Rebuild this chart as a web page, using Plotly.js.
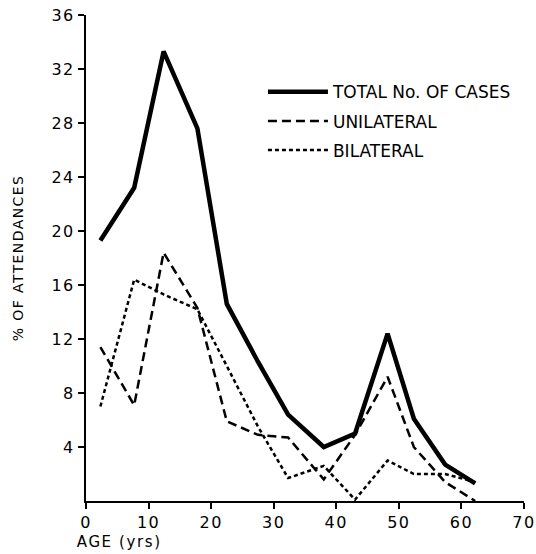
<!DOCTYPE html>
<html>
<head>
<meta charset="utf-8">
<script src="https://cdn.plot.ly/plotly-3.0.1.min.js"></script>
<style>
html,body{margin:0;padding:0;background:#fff;}
#chart{width:536px;height:554px;}
#chart .ytitle{letter-spacing:1.4px;}
#chart .annotation-text{letter-spacing:1.6px;}
#chart .xtick text, #chart .ytick text{letter-spacing:1.5px;}
</style>
</head>
<body>
<div id="chart"></div>
<script>
// Age (years) at which each point is plotted
const ages = [2.3, 7.7, 12.4, 17.8, 22.5, 27.5, 32.3, 38.0, 43.0, 48.2, 52.4, 57.4, 62.2];
// % of attendances
const totalCases = [19.3, 23.2, 33.3, 27.6, 14.6, 10.3, 6.4, 4.0, 5.0, 12.4, 6.1, 2.7, 1.3];
const unilateral = [11.4, 7.1, 18.4, 14.3, 5.9, 4.9, 4.7, 1.6, 4.9, 9.2, 4.0, 1.4, 0.0];
const bilateral  = [7.0, 16.4, 15.3, 14.2, 10.0, 5.5, 1.7, 2.6, 0.1, 3.0, 2.0, 2.0, 1.4];

const seriesNames = ["TOTAL No. OF CASES", "UNILATERAL", "BILATERAL"];
const xTicks = [0, 10, 20, 30, 40, 50, 60, 70];
const yTicks = [4, 8, 12, 16, 20, 24, 28, 32, 36];

const FONT = "'DejaVu Sans', Lato, sans-serif";

const traces = [
  {x: ages, y: totalCases, name: seriesNames[0], legendgroup: "a", mode: "lines",
   line: {color: "#000", width: 4.5}},
  {x: ages, y: unilateral, name: seriesNames[1], legendgroup: "b", mode: "lines",
   line: {color: "#000", width: 2.5, dash: "9px,5px"}},
  {x: ages, y: bilateral, name: seriesNames[2], legendgroup: "c", mode: "lines",
   line: {color: "#000", width: 2.5, dash: "4px,3px"}}
];

const layout = {
  width: 536, height: 554,
  margin: {l: 86, r: 12, t: 15, b: 53},
  paper_bgcolor: "#fff", plot_bgcolor: "#fff",
  font: {family: FONT, color: "#000", size: 15},
  showlegend: true,
  legend: {
    x: 0.404, y: 0.878, xanchor: "left", yanchor: "top",
    bgcolor: "rgba(0,0,0,0)", borderwidth: 0,
    traceorder: "grouped", tracegroupgap: 4, itemwidth: 60,
    font: {family: FONT, size: 17, color: "#000"}
  },
  xaxis: {
    range: [0, 70], tickvals: xTicks, ticktext: xTicks.map(String),
    showgrid: false, zeroline: false,
    showline: true, linecolor: "#000", linewidth: 2,
    ticks: "outside", ticklen: 6, tickwidth: 2, tickcolor: "#000",
    tickfont: {family: FONT, size: 16, color: "#000"},
    fixedrange: true
  },
  yaxis: {
    range: [0, 36], tickvals: yTicks, ticktext: yTicks.map(String),
    showgrid: false, zeroline: false,
    showline: true, linecolor: "#000", linewidth: 2,
    ticks: "outside", ticklen: 6, tickwidth: 2, tickcolor: "#000",
    tickfont: {family: FONT, size: 16, color: "#000"},
    title: {text: "% OF ATTENDANCES", font: {family: FONT, size: 14, color: "#000"}, standoff: 28},
    fixedrange: true
  },
  annotations: [
    {text: "AGE (yrs)", xref: "paper", yref: "paper", x: -0.008, y: -0.062,
     xanchor: "left", yanchor: "top", showarrow: false,
     font: {family: FONT, size: 15, color: "#000"}}
  ]
};

Plotly.newPlot("chart", traces, layout, {displayModeBar: false, staticPlot: true});
</script>
</body>
</html>
